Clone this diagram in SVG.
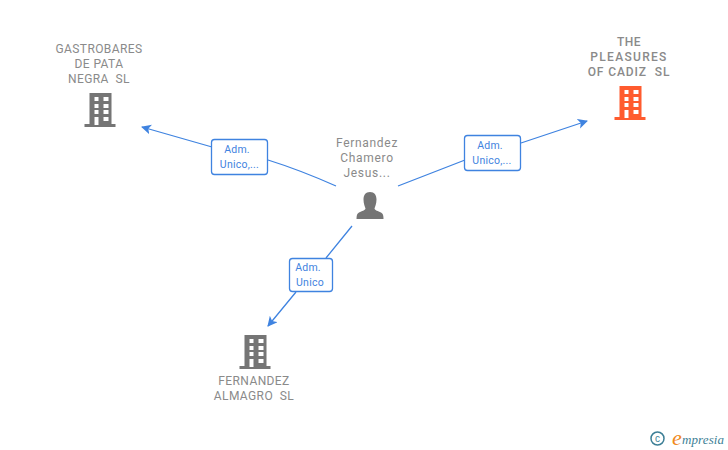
<svg xmlns="http://www.w3.org/2000/svg" width="728" height="450" viewBox="0 0 728 450">
<style>
text{white-space:pre}
.n{font-family:Roboto,"Liberation Sans",sans-serif;font-size:12px;fill:#8a8a8a;text-anchor:middle;letter-spacing:.4px}
.b{font-family:Roboto,"Liberation Sans",sans-serif;font-size:10.5px;fill:#3f83e0;text-anchor:middle;letter-spacing:.25px}
.c{fill:none;stroke:#3f83e0;stroke-width:1.3}
.l{fill:#fff;stroke:#3f83e0;stroke-width:1.3}
</style>
<defs>
<marker id="a" markerUnits="userSpaceOnUse" markerWidth="12" markerHeight="12" refX="9" refY="5" orient="auto"><path d="M0 0L10 5L0 10L2.500 5Z" fill="#3f83e0"/></marker>
<g id="bld"><path fill-rule="evenodd" d="M-11-33H11V-2H15V1H-16V-2H-11ZM-6-29V-25H-2V-29ZM3-29V-25H8V-29ZM-6-22V-18H-2V-22ZM3-22V-18H8V-22ZM-6-16V-12H-2V-16ZM3-16V-12H8V-16ZM-6-9V-1H-2V-9ZM3-9V-5H8V-9Z"/></g>
</defs>
<rect width="728" height="450" fill="#fff"/>
<g id="connectors">
<path class="c" d="M336 186Q300 170 268 160M212 147L142 127" marker-end="url(#a)"/>
<path class="c" d="M398 186L465 160M521 143L587 121" marker-end="url(#a)"/>
<path class="c" d="M352 226L326 258M296 292L268 326" marker-end="url(#a)"/>
</g>
<g id="node-gastrobares">
<text class="n" x="99" y="53">GASTROBARES</text><text class="n" x="99" y="68">DE PATA</text><text class="n" x="99" y="83">NEGRA  SL</text>
<use href="#bld" x="100.500" y="126" fill="#757575"/>
</g>
<g id="node-pleasures">
<text class="n" x="629" y="46" font-weight="500">THE</text><text class="n" x="629" y="61" font-weight="500" style="letter-spacing:1.300px">PLEASURES</text><text class="n" x="629" y="76" font-weight="500" style="letter-spacing:.9px">OF CADIZ  SL</text>
<use href="#bld" x="630.500" y="119" fill="#ff5b2e"/>
</g>
<g id="node-fernandez-almagro">
<text class="n" x="254" y="385">FERNANDEZ</text><text class="n" x="254" y="400">ALMAGRO  SL</text>
<use href="#bld" x="255.500" y="368" fill="#757575"/>
</g>
<g id="node-person">
<text class="n" x="367" y="147" style="letter-spacing:.7px">Fernandez</text><text class="n" x="367" y="162" style="letter-spacing:.7px">Chamero</text><text class="n" x="367" y="177" style="letter-spacing:.7px">Jesus...</text>
<path fill="#757575" d="M370 192C374.500 192 376.500 195 376.500 199.500C376.500 204 375 206.500 374.500 208.500C375 210.500 378 211 381 212.500C383 213.500 383.500 215.500 383.500 219H356.500C356.500 215.500 357 213.500 359 212.500C362 211 365 210.500 365.500 208.500C365 206.500 363.500 204 363.500 199.500C363.500 195 365.500 192 370 192Z"/>
</g>
<g id="label-1"><rect class="l" x="211.500" y="139.500" width="56" height="35" rx="3"/><text class="b" x="237" y="153">Adm.</text><text class="b" x="239.500" y="168">Unico,...</text></g>
<g id="label-2"><rect class="l" x="464.500" y="135.500" width="56" height="35" rx="3"/><text class="b" x="490" y="149">Adm.</text><text class="b" x="492" y="164">Unico,...</text></g>
<g id="label-3"><rect class="l" x="289.500" y="258.500" width="43" height="33" rx="3"/><text class="b" x="308" y="271">Adm.</text><text class="b" x="310" y="286">Unico</text></g>
<g id="logo">
<circle cx="657.500" cy="438.500" r="6.500" fill="none" stroke="#3d7f96" stroke-width="1.500"/>
<text x="657.500" y="442" font-family="Liberation Sans,sans-serif" font-size="10" fill="#3d7f96" text-anchor="middle">c</text>
<text x="677" y="445" font-family="Liberation Serif,serif" font-style="italic" font-size="22" fill="#f08a1d" text-anchor="middle">e</text>
<text x="682" y="444" font-family="Liberation Serif,serif" font-style="italic" font-size="13" fill="#3d7f96" textLength="42">mpresia</text>
</g>
</svg>
